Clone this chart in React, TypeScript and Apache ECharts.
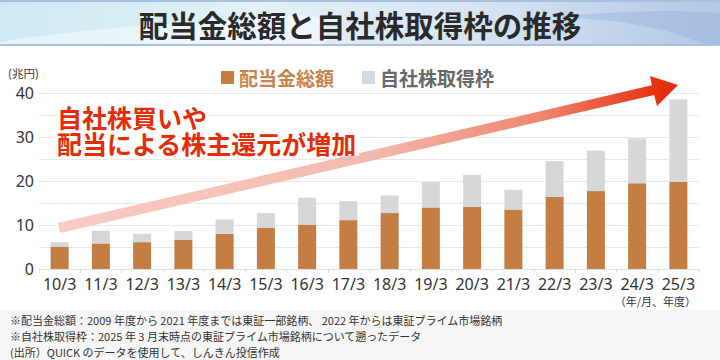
import React, { useEffect, useRef } from "react";
import * as echarts from "echarts";

const categories = ["10/3", "11/3", "12/3", "13/3", "14/3", "15/3", "16/3", "17/3", "18/3", "19/3", "20/3", "21/3", "22/3", "23/3", "24/3", "25/3"];
const dividends = [5.1, 5.8, 6.1, 6.6, 8.0, 9.4, 10.1, 11.1, 12.7, 14.0, 14.1, 13.5, 16.4, 17.7, 19.5, 19.8];
const buybacks = [1.0, 2.9, 1.9, 2.0, 3.3, 3.3, 6.1, 4.3, 4.0, 5.8, 7.3, 4.5, 8.1, 9.2, 10.2, 18.7];
const yTicks = [0, 10, 20, 30, 40];

const TITLE = "配当金総額と自社株取得枠の推移";
const NOTE1 = "自社株買いや";
const NOTE2 = "配当による株主還元が増加";
const FOOT = [
  "※配当金総額：2009 年度から 2021 年度までは東証一部銘柄、 2022 年からは東証プライム市場銘柄",
  "※自社株取得枠：2025 年 3 月末時点の東証プライム市場銘柄について遡ったデータ",
  "(出所）QUICK のデータを使用して、しんきん投信作成",
];

const JP = "'Noto Sans CJK JP', 'Noto Sans', sans-serif";

export default function App() {
  const ref = useRef<HTMLDivElement>(null);
  useEffect(() => {
    if (!ref.current) return;
    const chart = echarts.init(ref.current, null, { renderer: "svg" });
    chart.setOption({
      animation: false,
      backgroundColor: "#fff",
      grid: { left: 39, right: 21, top: 93, bottom: 91, containLabel: false },
      legend: {
        left: 216,
        top: 63,
        itemWidth: 13,
        itemHeight: 13,
        itemGap: 28,
        icon: "rect",
        textStyle: { fontSize: 19, fontWeight: "bold", fontFamily: JP },
        data: [
          { name: "配当金総額", itemStyle: { color: "#c47e44" }, textStyle: { color: "#c8844b" } },
          { name: "自社株取得枠", itemStyle: { color: "#d3dae5" }, textStyle: { color: "#686868" } },
        ],
      },
      xAxis: {
        type: "category",
        data: categories,
        axisLine: { lineStyle: { color: "#e0e0e0" } },
        axisTick: { show: true, length: 4, lineStyle: { color: "#e0e0e0" } },
        axisLabel: { interval: 0, fontSize: 16, color: "#333", margin: 7, fontFamily: "'Noto Sans', sans-serif" },
      },
      yAxis: {
        type: "value",
        min: 0,
        max: 40,
        interval: 5,
        axisLine: { show: false },
        axisTick: { show: false },
        splitLine: { lineStyle: { color: "#e8e8ea" } },
        axisLabel: {
          fontSize: 16,
          color: "#333",
          margin: 5,
          fontFamily: "'Noto Sans', sans-serif",
          formatter: (v: number) => (yTicks.includes(v) ? String(v) : ""),
        },
      },
      series: [
        {
          name: "配当金総額",
          type: "bar",
          stack: "total",
          barWidth: 18,
          data: dividends,
          itemStyle: { color: "#c47e44" },
        },
        {
          name: "自社株取得枠",
          type: "bar",
          stack: "total",
          barWidth: 18,
          data: buybacks,
          itemStyle: { color: "#d6d7d9" },
        },
      ],
      graphic: [
        {
          type: "rect",
          z: 0,
          shape: { x: 0, y: 0, width: 720, height: 45 },
          style: {
            fill: new echarts.graphic.LinearGradient(0, 0, 1, 0, [
              { offset: 0, color: "#cde9f3" },
              { offset: 0.35, color: "#e3f0f8" },
              { offset: 0.65, color: "#d9e5f3" },
              { offset: 1, color: "#b2c7e5" },
            ]),
          },
        },
        {
          type: "polygon",
          z: 1,
          shape: { points: [[0, 45], [0, 42], [60, 34], [140, 26], [240, 20], [320, 18], [320, 45]], smooth: 0.4 },
          style: { fill: "rgba(255,255,255,0.45)" },
        },
        {
          type: "polygon",
          z: 1,
          shape: { points: [[560, 16], [620, 22], [670, 32], [705, 44], [720, 45], [720, 14]], smooth: 0.3 },
          style: { fill: "rgba(140,170,215,0.35)" },
        },
        { type: "rect", z: 2, shape: { x: 0, y: 0, width: 720, height: 2 }, style: { fill: "#a8c0e0" } },
        { type: "rect", z: 2, shape: { x: 0, y: 44, width: 720, height: 2 }, style: { fill: "#a9c0df" } },
        {
          type: "text",
          z: 3,
          style: {
            x: 360,
            y: 24,
            text: TITLE,
            align: "center",
            verticalAlign: "middle",
            fontSize: 29.5,
            fontWeight: "bold",
            fontFamily: JP,
            fill: "#2a2a2a",
          },
        },
        {
          type: "text",
          style: { x: 8, y: 72.5, text: "(兆円)", verticalAlign: "middle", fontSize: 11.5, fontFamily: JP, fill: "#333" },
        },
        {
          type: "text",
          style: { x: 696, y: 301, text: "（年/月、年度）", align: "right", verticalAlign: "middle", fontSize: 11, fontFamily: JP, fill: "#333" },
        },
        {
          type: "polygon",
          z: 5,
          shape: {
            points: [[57.9, 223.1], [651.9, 85.3], [650, 76], [678, 85], [657, 106], [654.1, 95.1], [60.1, 232.9]],
          },
          style: {
            fill: new echarts.graphic.LinearGradient(0, 0, 1, 0, [
              { offset: 0, color: "#f8cdc5" },
              { offset: 0.5, color: "#f4b9ae" },
              { offset: 0.78, color: "#ef8670" },
              { offset: 0.92, color: "#e84424" },
              { offset: 1, color: "#e02a00" },
            ]),
          },
        },
        {
          type: "text",
          z: 6,
          style: {
            x: 55,
            y: 117,
            text: NOTE1,
            verticalAlign: "middle",
            fontSize: 25,
            lineHeight: 25,
            fontWeight: "bold",
            fontFamily: JP,
            fill: "#e42d05",
            backgroundColor: "#fff",
            padding: [0, 2],
          },
        },
        {
          type: "text",
          z: 6,
          style: {
            x: 55,
            y: 143,
            text: NOTE2,
            verticalAlign: "middle",
            fontSize: 25,
            lineHeight: 25,
            fontWeight: "bold",
            fontFamily: JP,
            fill: "#e42d05",
            backgroundColor: "#fff",
            padding: [0, 2],
          },
        },
        { type: "rect", z: 0, shape: { x: 0, y: 310, width: 720, height: 50 }, style: { fill: "#f6f6f6" } },
        ...FOOT.map((t, i) => ({
          type: "text",
          z: 2,
          style: { x: 10, y: 320 + i * 16, text: t, verticalAlign: "middle", fontSize: 11, fontFamily: JP, fill: "#333" },
        })),
      ],
    });
    return () => chart.dispose();
  }, []);
  return <div ref={ref} style={{ width: 720, height: 360, position: "absolute", left: 0, top: 0 }} />;
}
